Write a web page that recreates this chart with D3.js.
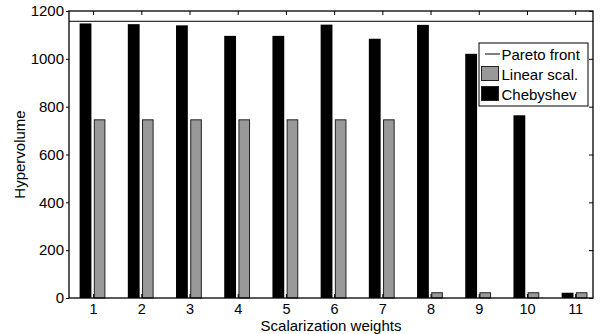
<!DOCTYPE html>
<html>
<head>
<meta charset="utf-8">
<script src="https://cdn.jsdelivr.net/npm/d3@7"></script>
<style>
  html, body { margin: 0; padding: 0; background: #fff; }
  svg { display: block; font-family: "Liberation Sans", Arial, Helvetica, sans-serif; }
</style>
</head>
<body>
<svg id="chart" width="600" height="334"></svg>
<script>
// Hypervolume per scalarization weight
const weights = [1, 2, 3, 4, 5, 6, 7, 8, 9, 10, 11];
const linearScal = [745, 745, 745, 745, 745, 745, 745, 22, 22, 22, 22];
const chebyshev = [1148, 1145, 1140, 1096, 1096, 1143, 1084, 1142, 1021, 764, 22];
const paretoFront = 1157;
const yTicks = [0, 200, 400, 600, 800, 1000, 1200];

const W = 600, H = 334;
const margin = { left: 69, right: 7, top: 11, bottom: 36 };
const svg = d3.select("#chart");

const x = d3.scaleLinear().domain([0.5, 11.37]).range([margin.left, W - margin.right]);
const y = d3.scaleLinear().domain([0, 1200]).range([H - margin.bottom, margin.top]);

const x0 = margin.left, x1 = W - margin.right, y0 = H - margin.bottom, y1 = margin.top;

// bars: Chebyshev on the left of each weight, linear scalarization on the right
const g = svg.append("g");
g.selectAll("rect.cheb").data(weights).join("rect")
  .attr("class", "cheb")
  .attr("x", (d) => x(d - 0.28))
  .attr("width", (d) => x(d - 0.035) - x(d - 0.28))
  .attr("y", (d, i) => y(chebyshev[i]))
  .attr("height", (d, i) => y(0) - y(chebyshev[i]))
  .attr("fill", "#000");

g.selectAll("rect.lin").data(weights).join("rect")
  .attr("class", "lin")
  .attr("x", (d) => x(d + 0.025))
  .attr("width", (d) => x(d + 0.245) - x(d + 0.025))
  .attr("y", (d, i) => y(linearScal[i]))
  .attr("height", (d, i) => y(0) - y(linearScal[i]))
  .attr("fill", "#999")
  .attr("stroke", "#222")
  .attr("stroke-width", 1);

// Pareto front reference line
svg.append("line")
  .attr("x1", x0).attr("x2", x1)
  .attr("y1", y(paretoFront)).attr("y2", y(paretoFront))
  .attr("stroke", "#000").attr("stroke-width", 1);

// axes
const yAxis = d3.axisLeft(y).tickValues(yTicks).tickSize(3).tickPadding(2).tickFormat(d3.format("d"));
const yAxisG = svg.append("g").attr("transform", `translate(${x0},0)`).call(yAxis);
yAxisG.select(".domain").remove();
yAxisG.selectAll("text").attr("font-size", 15).attr("fill", "#000").attr("font-family", "Liberation Sans, Arial, sans-serif");

const yAxisR = d3.axisRight(y).tickValues(yTicks).tickSize(-4).tickFormat("");
const yR = svg.append("g").attr("transform", `translate(${x1},0)`).call(yAxisR);
yR.select(".domain").remove();

const xAxis = d3.axisBottom(x).tickValues(weights).tickSize(-4).tickPadding(5.5).tickFormat(d3.format("d"));
const xAxisG = svg.append("g").attr("transform", `translate(0,${y0})`).call(xAxis);
xAxisG.select(".domain").remove();
xAxisG.selectAll("text").attr("font-size", 14.5).attr("fill", "#000").attr("font-family", "Liberation Sans, Arial, sans-serif");

const xAxisT = d3.axisTop(x).tickValues(weights).tickSize(-4).tickFormat("");
const xT = svg.append("g").attr("transform", `translate(0,${y1})`).call(xAxisT);
xT.select(".domain").remove();

// frame
svg.append("rect")
  .attr("x", x0).attr("y", y1)
  .attr("width", x1 - x0).attr("height", y0 - y1)
  .attr("fill", "none").attr("stroke", "#000").attr("stroke-width", 1.3);

// axis titles
svg.append("text")
  .attr("x", (x0 + x1) / 2).attr("y", 330.5)
  .attr("text-anchor", "middle").attr("font-size", 15)
  .text("Scalarization weights");

svg.append("text")
  .attr("transform", `translate(25,${(y0 + y1) / 2}) rotate(-90)`)
  .attr("text-anchor", "middle").attr("font-size", 15)
  .text("Hypervolume");

// legend
const lg = svg.append("g").attr("transform", "translate(479,43)");
lg.append("rect").attr("width", 109).attr("height", 63)
  .attr("fill", "#fff").attr("stroke", "#000").attr("stroke-width", 1);
const items = [
  { label: "Pareto front", kind: "line" },
  { label: "Linear scal.", kind: "grey" },
  { label: "Chebyshev", kind: "black" }
];
items.forEach((it, i) => {
  const cy = 11 + i * 20;
  if (it.kind === "line") {
    lg.append("line").attr("x1", 6).attr("x2", 21).attr("y1", cy).attr("y2", cy)
      .attr("stroke", "#000").attr("stroke-width", 1);
  } else {
    lg.append("rect").attr("x", 2.5).attr("y", cy - 7.5).attr("width", 17).attr("height", 14)
      .attr("fill", it.kind === "grey" ? "#999" : "#000")
      .attr("stroke", "#222").attr("stroke-width", 1);
  }
  lg.append("text").attr("x", 22.5).attr("y", cy + 5.5)
    .attr("font-size", 15).text(it.label);
});
</script>
</body>
</html>
